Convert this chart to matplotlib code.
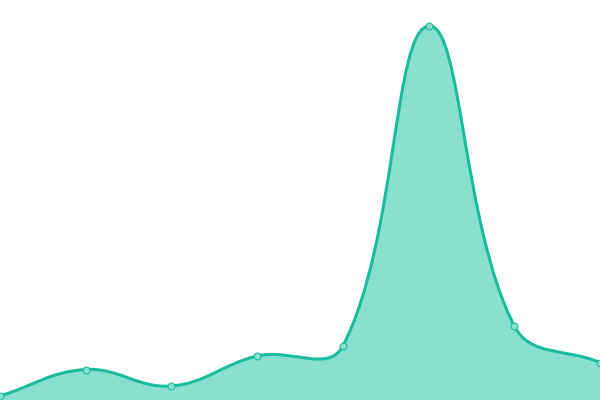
import numpy as np
import matplotlib
matplotlib.use("Agg")
import matplotlib.pyplot as plt
from matplotlib.path import Path
from matplotlib.patches import PathPatch

# values (y axis runs 0..400)
categories = ["A", "B", "C", "D", "E", "F", "G", "H"]
values = [4, 30.5, 14, 44, 54, 374, 74, 37.5]

LINE_COLOR = "#1abc9c"
FILL_COLOR = "#8ae0cf"
X_STEP = 600 / 7  # pixel spacing, smoothing is done in pixel space


def smooth_path_vertices(xs, ys, tension=0.4):
    """Cubic bezier through points, chart.js style spline (distance weighted)."""
    pts = np.column_stack([np.asarray(xs, float) * X_STEP,
                           np.asarray(ys, float)])
    n = len(pts)
    cp_in, cp_out = [], []
    for i in range(n):
        cur = pts[i]
        prev = pts[max(i - 1, 0)]
        nxt = pts[min(i + 1, n - 1)]
        d01 = np.hypot(*(cur - prev))
        d12 = np.hypot(*(nxt - cur))
        tot = d01 + d12
        fa = tension * d01 / tot if tot else 0
        fb = tension * d12 / tot if tot else 0
        v = nxt - prev
        cp_in.append(cur - fa * v)
        cp_out.append(cur + fb * v)

    def to_data(p):
        return (p[0] / X_STEP, p[1])

    verts = [to_data(pts[0])]
    codes = [Path.MOVETO]
    for i in range(n - 1):
        verts += [to_data(cp_out[i]), to_data(cp_in[i + 1]), to_data(pts[i + 1])]
        codes += [Path.CURVE4] * 3
    return verts, codes


def main():
    x = np.arange(len(categories))
    fig = plt.figure(figsize=(6, 4), dpi=100)
    ax = fig.add_axes([0, 0, 1, 1])
    ax.set_xlim(0, len(categories) - 1)
    ax.set_ylim(0, 400)
    ax.axis("off")

    verts, codes = smooth_path_vertices(x, values)

    # filled area under the curve
    area_verts = verts + [(x[-1], 0), (x[0], 0), verts[0]]
    area_codes = codes + [Path.LINETO, Path.LINETO, Path.CLOSEPOLY]
    ax.add_patch(PathPatch(Path(area_verts, area_codes), facecolor=FILL_COLOR,
                           edgecolor="none"))
    ax.add_patch(PathPatch(Path(verts, codes), facecolor="none",
                           edgecolor=LINE_COLOR, linewidth=2.2,
                           capstyle="round", joinstyle="round"))

    ax.scatter(x, values, s=24, facecolor=FILL_COLOR, edgecolor=LINE_COLOR,
               linewidth=0.8, zorder=3, clip_on=False)

    fig.savefig("out.png", dpi=100)
    plt.close(fig)


if __name__ == "__main__":
    main()
